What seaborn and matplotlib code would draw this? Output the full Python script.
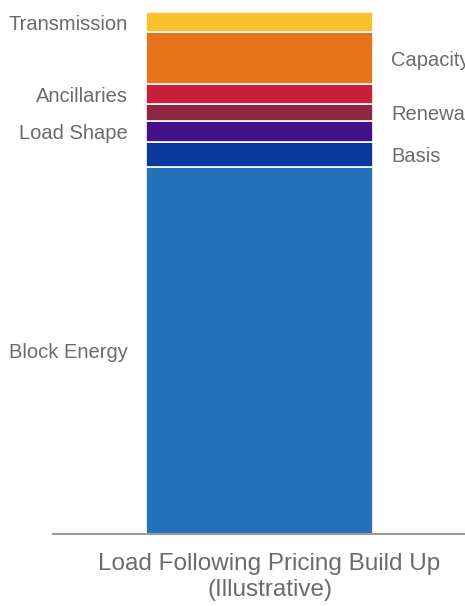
import matplotlib
matplotlib.use("Agg")
import matplotlib.pyplot as plt
import seaborn as sns

# Data (arbitrary units, bottom to top)
segments = ["Block Energy", "Basis", "Load Shape", "Renewables", "Ancillaries", "Capacity", "Transmission"]
values = [367, 25, 21, 17, 20, 52, 20]
colors = ["#2472b8", "#0a3a9e", "#43128a", "#8e2744", "#c8203a", "#e8731a", "#fbc02d"]
label_side = ["left", "right", "left", "right", "left", "right", "left"]
category = ["Load Following Pricing Build Up"]
title = "Load Following Pricing Build Up\n(Illustrative)"

sns.set_theme(style="white")
plt.rcParams["font.family"] = ["Liberation Sans", "DejaVu Sans"]

W, H = 465, 606
fig = plt.figure(figsize=(W / 100, H / 100), dpi=100)
ax_left, ax_right, ax_bottom, ax_top = 53, 486, 534, 0
ax = fig.add_axes([ax_left / W, (H - ax_bottom) / H, (ax_right - ax_left) / W, (ax_bottom - ax_top) / H])

bar_w = 0.8
bottom = 0
for seg, val, col, side in zip(segments, values, colors, label_side):
    sns.barplot(x=category, y=[val], bottom=bottom, color=col, width=bar_w,
                edgecolor="white", linewidth=1.2, ax=ax, saturation=1)
    mid = bottom + val / 2
    if side == "left":
        ax.text(-bar_w / 2 - 0.065, mid, seg, ha="right", va="center_baseline", fontsize=14.5, color="#6b6b6b")
    else:
        ax.text(bar_w / 2 + 0.065, mid, seg, ha="left", va="center_baseline", fontsize=14.5, color="#6b6b6b")
    bottom += val

s = bar_w / 227
ax.set_xlim(-206.5 * s, 226.5 * s)
ax.set_ylim(0, 534)
for sp in ["top", "left", "right"]:
    ax.spines[sp].set_visible(False)
ax.spines["bottom"].set_color("#9a9a9a")
ax.spines["bottom"].set_linewidth(1.5)
ax.set_yticks([])
ax.set_xticks([])
ax.set_xlabel(title, fontsize=17.5, color="#6b6b6b", labelpad=14, linespacing=1.2)
ax.set_ylabel("")

fig.savefig("out.png", dpi=100)
